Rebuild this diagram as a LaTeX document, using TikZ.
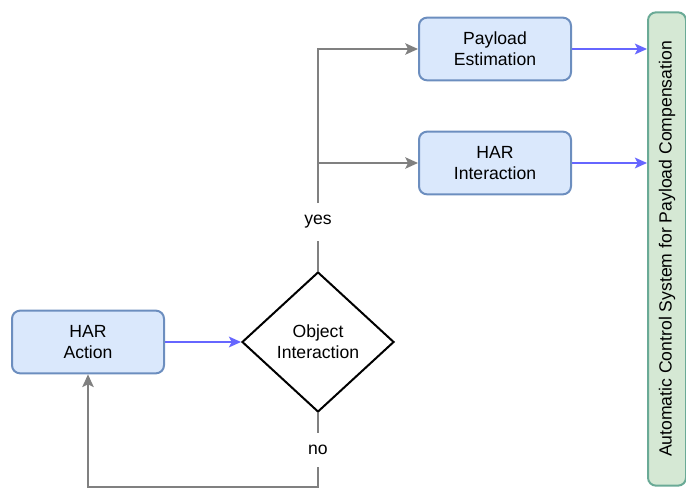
\documentclass[tikz,border=0pt]{standalone}
\usepackage{fontspec}
\setmainfont{Liberation Sans}
\usetikzlibrary{shapes.geometric,arrows.meta}

\definecolor{harfill}{HTML}{DAE8FC}
\definecolor{hardraw}{HTML}{6C8EBF}
\definecolor{ctrlfill}{HTML}{D5E8D4}
\definecolor{ctrldraw}{HTML}{6AAA96}
\definecolor{flowblue}{HTML}{6666FF}
\definecolor{flowgray}{HTML}{808080}

\tikzset{
 harbox/.style={draw=hardraw,fill=harfill,line width=1.5pt,rounded corners=6pt,
  minimum width=114pt,minimum height=47pt,align=center},
 decision/.style={draw=black,line width=1.5pt,diamond,inner sep=0pt,
  minimum width=114pt,minimum height=105pt,align=center},
 ctrlbox/.style={draw=ctrldraw,fill=ctrlfill,line width=1.5pt,rounded corners=6pt,
  rotate=90,minimum width=355pt,minimum height=28.5pt},
 branchlabel/.style={fill=white,inner xsep=2pt,inner ysep=9pt},
 bluearrow/.style={draw=flowblue,line width=1.5pt,-{Stealth[length=9pt,width=8pt,inset=2pt]}},
 grayline/.style={draw=flowgray,line width=1.5pt},
 grayarrow/.style={grayline,-{Stealth[length=9.5pt,width=8.5pt,inset=2pt]}}
}

\begin{document}
\begin{tikzpicture}[x=0.75pt,y=-0.75pt,font=\fontsize{13.2}{15.75}\selectfont]
 \useasboundingbox (0,0) rectangle (686,488);

 \node[harbox] (act) at (88,342) {HAR\\Action}; %HAR Action
 \node[decision] (obj) at (318,342) {Object\\Interaction}; %判定
 \node[harbox] (est) at (495,49) {Payload\\Estimation};
 \node[harbox] (inter) at (495,163) {HAR\\Interaction};
 \node[ctrlbox] (ctrl) at (667,249) {Automatic Control System for Payload Compensation};

 \node[branchlabel] (yes) at (318,222) {yes};
 \node[branchlabel] (no) at (318,450) {no};
 \coordinate (split) at (318,163); %分岐
 \coordinate (bend) at (318,487); %戻り

 \draw[bluearrow] (act.east) -- (obj.west);
 \draw[bluearrow] (est.east) -- (est.east -| ctrl.north);
 \draw[bluearrow] (inter.east) -- (inter.east -| ctrl.north);

 \draw[grayline] (obj.north) -- (yes.south);
 \draw[grayarrow] (yes.north) |- (est.west);
 \draw[grayarrow] (split) -- (inter.west);
 \draw[grayline] (obj.south) -- (no.north);
 \draw[grayarrow] (no.south) -- (bend) -| (act.south);
\end{tikzpicture}
\end{document}
